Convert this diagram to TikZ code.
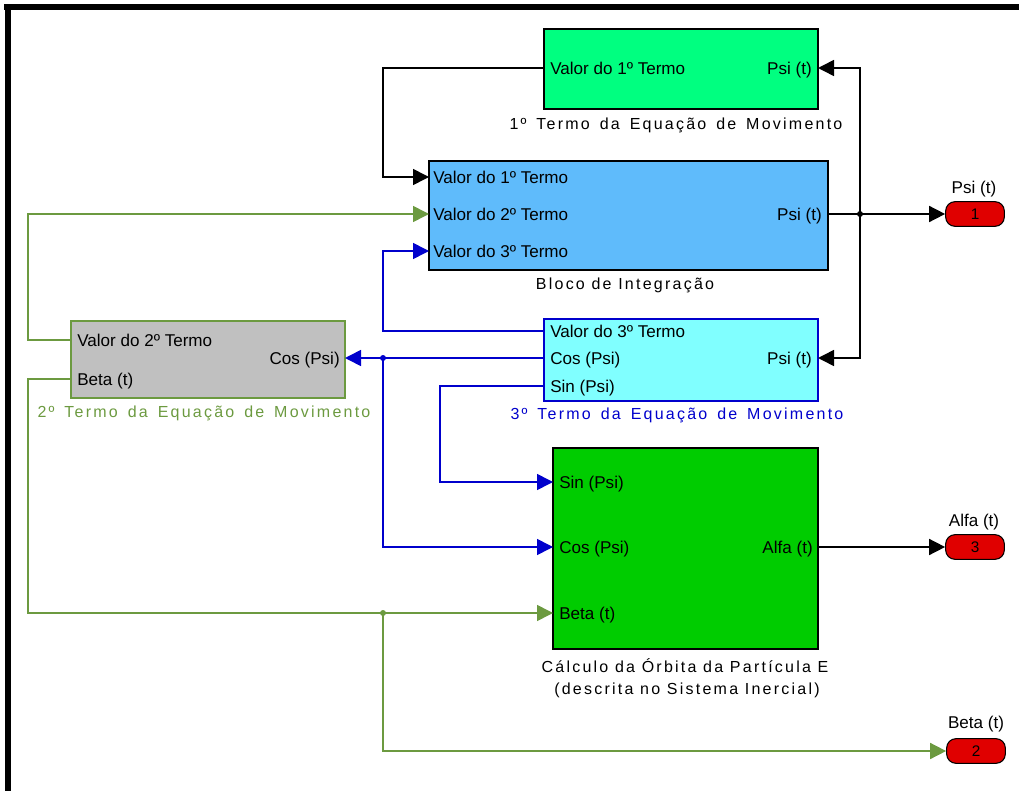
\documentclass[tikz,border=0pt]{standalone}
\usepackage{fontspec}
\setmainfont{Liberation Sans}
\usetikzlibrary{arrows.meta}
\definecolor{springg}{HTML}{00FF80}
\definecolor{integ}{HTML}{5FBBFB}
\definecolor{greyb}{HTML}{C0C0C0}
\definecolor{cyanb}{HTML}{80FFFF}
\definecolor{greenb}{HTML}{00CC00}
\definecolor{oliveL}{HTML}{6C9A40}
\definecolor{blueL}{HTML}{0000CC}
\definecolor{redp}{HTML}{E00000}
\newcommand{\wsp}{\spaceskip=0.62em\relax}
\begin{document}
\begin{tikzpicture}[x=0.75pt,y=-0.75pt,
  blk/.style={draw=black, line width=1.2pt, inner sep=0pt, outer sep=0pt},
  port/.style={font=\fontsize{12.8}{13}\selectfont, inner sep=0pt, text height=9.2pt, text depth=0pt},
  captxt/.style={font=\fontsize{12}{13}\selectfont\addfontfeature{LetterSpace=14}, inner sep=0pt, align=center},
  wire/.style={line width=1.2pt, draw=black},
  gwire/.style={line width=1.2pt, draw=oliveL},
  bwire/.style={line width=1.2pt, draw=blueL},
  arr/.style={-{Triangle[length=12pt,width=12pt]}},
  outp/.style={draw=black, line width=0.8pt, fill=redp, rounded corners=7pt, minimum width=44pt, minimum height=18.5pt, inner sep=0pt, font=\fontsize{11.5}{12}\selectfont},
  dot/.style={circle, fill, inner sep=0pt, minimum size=4.5pt}
]
\useasboundingbox (0,0) rectangle (1019,791);
% frame
\fill[black] (4,4) rectangle (1019,10);
\fill[black] (5,4) rectangle (11,791);

% blocks
\node[blk, fill=springg, minimum width=205.5pt, minimum height=60pt] (b1) at (681,69) {};
\node[blk, fill=integ, minimum width=299.25pt, minimum height=81.75pt] (b2) at (628.5,215.5) {};
\node[blk, draw=oliveL, fill=greyb, minimum width=205.5pt, minimum height=57.75pt] (b3) at (208,359.5) {};
\node[blk, draw=blueL, fill=cyanb, minimum width=205.5pt, minimum height=61.5pt] (b4) at (681,360) {};
\node[blk, fill=greenb, minimum width=198.75pt, minimum height=150.75pt] (b5) at (685.5,548.5) {};

% port labels
\node[port, anchor=west] (b1v) at (550,68) {Valor do 1º Termo};
\node[port, anchor=east] (b1psi) at (812,68) {Psi (t)};
\node[port, anchor=west] (b2v1) at (433,177) {Valor do 1º Termo};
\node[port, anchor=west] (b2v2) at (433,214) {Valor do 2º Termo};
\node[port, anchor=west] (b2v3) at (433,251) {Valor do 3º Termo};
\node[port, anchor=east] (b2psi) at (822,214) {Psi (t)};
\node[port, anchor=west] (b3v) at (77,340) {Valor do 2º Termo};
\node[port, anchor=west] (b3beta) at (77,379) {Beta (t)};
\node[port, anchor=east] (b3cos) at (340,358) {Cos (Psi)};
\node[port, anchor=west] (b4v) at (550,331) {Valor do 3º Termo};
\node[port, anchor=west] (b4cos) at (550,358) {Cos (Psi)};
\node[port, anchor=west] (b4sin) at (550,386) {Sin (Psi)};
\node[port, anchor=east] (b4psi) at (812,358) {Psi (t)};
\node[port, anchor=west] (b5sin) at (559,482) {Sin (Psi)};
\node[port, anchor=west] (b5cos) at (559,547) {Cos (Psi)};
\node[port, anchor=west] (b5beta) at (559,613) {Beta (t)};
\node[port, anchor=east] (b5alfa) at (813,547) {Alfa (t)};

% captions
\node[captxt] (c1) at (676,125) {\wsp 1º Termo da Equação de Movimento};
\node[captxt] (c2) at (625,285) {Bloco de Integração};
\node[captxt, text=oliveL] (c3) at (204,413) {\wsp 2º Termo da Equação de Movimento};
\node[captxt, text=blueL] (c4) at (677,415) {\wsp 3º Termo da Equação de Movimento};
\node[captxt] (c5) at (685,666) {Cálculo da Órbita da Partícula E};
\node[captxt] (c6) at (687,690) {(descrita no Sistema Inercial)};

% outports
\node[outp] (o1) at (975,214) {1};
\node[outp] (o3) at (975,547) {3};
\node[outp] (o2) at (976,751) {2};
\node[port] (l1) at (974,187) {Psi (t)};
\node[port] (l3) at (974,520) {Alfa (t)};
\node[port] (l2) at (976,722) {Beta (t)};

% helper columns
\coordinate (xa) at (383,0);
\coordinate (xs) at (440,0);
\coordinate (xg) at (28,0);
\coordinate (xr) at (860,0);

% black wires
\draw[wire,arr] (b1.west|-b1v) -| (xa|-b2v1) -- (b2.west|-b2v1);
\draw[wire,arr] (b2.east|-b2psi) -- (o1.west);
\draw[wire,arr] (xr|-b2psi) |- (b1.east|-b1psi);
\draw[wire,arr] (xr|-b2psi) |- (b4.east|-b4psi);
\node[dot] (d1) at (xr|-b2psi) {};
\draw[wire,arr] (b5.east|-b5alfa) -- (o3.west);

% green wires
\draw[gwire,arr] (b3.west|-b3v) -| (xg|-b2v2) -- (b2.west|-b2v2);
\draw[gwire,arr] (b3.west|-b3beta) -| (xg|-b5beta) -- (b5.west|-b5beta);
\draw[gwire,arr] (xa|-b5beta) |- (o2.west);
\node[dot, fill=oliveL] (d3) at (xa|-b5beta) {};

% blue wires
\draw[bwire,arr] (b4.west|-b4v) -| (xa|-b2v3) -- (b2.west|-b2v3);
\draw[bwire,arr] (b4.west|-b4cos) -- (b3.east|-b3cos);
\draw[bwire,arr] (xa|-b4cos) |- (b5.west|-b5cos);
\node[dot, fill=blueL] (d2) at (xa|-b4cos) {};
\draw[bwire,arr] (b4.west|-b4sin) -| (xs|-b5sin) -- (b5.west|-b5sin);
\end{tikzpicture}
\end{document}
